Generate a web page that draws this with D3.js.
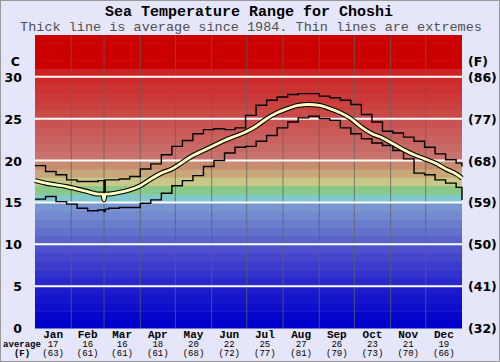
<!DOCTYPE html>
<html>
<head>
<meta charset="utf-8">
<script src="https://cdn.jsdelivr.net/npm/d3@7"></script>
<style>
  body { margin: 0; background: #e6e6fa; }
  svg { display: block; }
</style>
</head>
<body>
<main></main>
<script>
const width = 500;
const height = 362;
const plotLeft = 35, plotRight = 462, plotTop = 35, plotBottom = 328;

// day of year for each reading
const days = [0, 9, 18, 27, 36, 45, 54, 58, 59, 60, 63, 72, 81, 90, 99, 108, 117, 126, 135, 144, 153, 162, 171, 180,
  189, 198, 207, 216, 225, 234, 243, 252, 261, 270, 279, 288, 297, 306, 315, 324, 333, 342, 351, 360, 365];
const avgTemp = [17.6, 17.3, 17.1, 16.9, 16.6, 16.3, 16.0, 16.0, 15.3, 16.0, 16.0, 16.2, 16.5, 17.0, 17.8, 18.5, 19.0, 19.8, 20.6, 21.2, 21.8, 22.4, 22.9, 23.4,
  24.1, 25.0, 25.7, 26.2, 26.6, 26.7, 26.6, 26.2, 25.7, 25.0, 24.0, 23.2, 22.7, 22.0, 21.3, 20.7, 20.2, 19.7, 19.0, 18.4, 17.9];
const maxTemp = [19.4, 18.7, 18.3, 17.7, 17.5, 17.5, 17.6, 17.6, 16.1, 17.7, 17.7, 17.8, 18.1, 19.0, 19.6, 20.7, 21.7, 22.4, 23.2, 23.7, 23.8, 23.7, 23.9, 25.4,
  26.6, 27.2, 27.6, 27.9, 28.0, 28.0, 27.7, 27.5, 27.2, 26.7, 25.5, 24.6, 23.5, 23.3, 22.8, 22.3, 21.6, 20.8, 20.1, 19.7, 19.3];
const minTemp = [15.4, 15.7, 15.1, 14.8, 14.3, 14.0, 14.1, 14.1, 13.9, 14.2, 14.3, 14.4, 14.4, 14.9, 15.3, 16.1, 17.0, 17.6, 18.2, 19.3, 20.0, 20.9, 21.6, 21.7,
  22.3, 23.0, 23.9, 24.6, 25.1, 25.3, 25.0, 24.8, 23.9, 23.2, 22.6, 22.1, 21.8, 21.2, 20.2, 18.5, 18.3, 17.7, 17.3, 16.8, 15.3];

const monthStarts = [0, 31, 59, 90, 120, 151, 181, 212, 243, 273, 304, 334, 365];
const monthNames = ['Jan', 'Feb', 'Mar', 'Apr', 'May', 'Jun', 'Jul', 'Aug', 'Sep', 'Oct', 'Nov', 'Dec'];
const monthAvgC = ['17', '16', '16', '18', '20', '22', '25', '27', '26', '23', '21', '19'];
const monthAvgF = ['(63)', '(61)', '(61)', '(61)', '(68)', '(72)', '(77)', '(81)', '(79)', '(73)', '(70)', '(66)'];
const ticksC = [0, 5, 10, 15, 20, 25, 30];
const ticksF = ['(32)', '(41)', '(50)', '(59)', '(68)', '(77)', '(86)'];

const mono = '"Liberation Mono", "DejaVu Sans Mono", monospace';
const sans = '"DejaVu Sans", sans-serif';

const x = d3.scaleLinear().domain([0, 365]).range([plotLeft, plotRight]);
const y = d3.scaleLinear().domain([0, 35]).range([plotBottom, plotTop]);

const bandColor = (d) => {
  if (d < 5) return d3.interpolateRgb('rgb(0,0,204)', 'rgb(28,28,204)')(d / 4);
  if (d < 10) return d3.interpolateRgb('rgb(40,40,204)', 'rgb(78,80,204)')((d - 5) / 4);
  if (d < 15) return d3.interpolateRgb('rgb(90,100,200)', 'rgb(122,150,210)')((d - 10) / 4);
  if (d === 15) return 'rgb(128,200,204)';
  if (d === 16) return 'rgb(136,200,136)';
  if (d === 17) return 'rgb(200,200,136)';
  if (d === 18) return 'rgb(200,168,120)';
  if (d === 19) return 'rgb(200,140,112)';
  if (d < 31) return d3.interpolateRgb('rgb(200,114,110)', 'rgb(204,34,34)')((d - 20) / 10);
  return 'rgb(204,0,0)';
};

const svg = d3.select('main')
  .append('svg')
  .attr('width', width)
  .attr('height', height);

svg.append('rect')
  .attr('x', 0.5).attr('y', 0.5)
  .attr('width', width - 1).attr('height', height - 1)
  .attr('fill', '#e6e6fa')
  .attr('stroke', '#999');

// temperature bands
svg.append('g')
  .selectAll('rect')
  .data(d3.range(0, 35))
  .enter()
  .append('rect')
  .attr('x', plotLeft)
  .attr('width', plotRight - plotLeft)
  .attr('y', (d) => y(d + 1))
  .attr('height', (d) => y(d) - y(d + 1) + 0.5)
  .attr('fill', (d) => bandColor(d));

// month separators
svg.append('g')
  .selectAll('line')
  .data(monthStarts.slice(1, -1))
  .enter()
  .append('line')
  .attr('x1', (d) => x(d)).attr('x2', (d) => x(d))
  .attr('y1', plotTop).attr('y2', plotBottom)
  .attr('stroke', '#606060')
  .attr('stroke-opacity', 0.75)
  .attr('stroke-width', 1);

// horizontal grid
svg.append('g')
  .selectAll('line')
  .data(ticksC.slice(1))
  .enter()
  .append('line')
  .attr('x1', plotLeft).attr('x2', plotRight)
  .attr('y1', (d) => y(d)).attr('y2', (d) => y(d))
  .attr('stroke', '#fff')
  .attr('stroke-width', 2);

const series = (vals) => days.map((d, i) => [d, vals[i]]);

const stepLine = d3.line()
  .x((d) => x(d[0]))
  .y((d) => y(d[1]))
  .curve(d3.curveStepAfter);

const smoothLine = d3.line()
  .x((d) => x(d[0]))
  .y((d) => y(d[1]))
  .curve(d3.curveMonotoneX);

[maxTemp, minTemp].forEach((vals) => {
  svg.append('path')
    .attr('d', stepLine(series(vals)))
    .attr('fill', 'none')
    .attr('stroke', '#000')
    .attr('stroke-width', 1.4);
});

svg.append('path')
  .attr('d', smoothLine(series(avgTemp)))
  .attr('fill', 'none')
  .attr('stroke', '#000')
  .attr('stroke-width', 5);

svg.append('path')
  .attr('d', smoothLine(series(avgTemp)))
  .attr('fill', 'none')
  .attr('stroke', '#ffffc0')
  .attr('stroke-width', 2.8);

// titles
svg.append('text')
  .attr('x', 249).attr('y', 16)
  .attr('text-anchor', 'middle')
  .style('font', 'bold 15px ' + mono)
  .text('Sea Temperature Range for Choshi');

svg.append('text')
  .attr('x', 251).attr('y', 31)
  .attr('text-anchor', 'middle')
  .style('font', '13.5px ' + mono)
  .attr('fill', '#505050')
  .text('Thick line is average since 1984. Thin lines are extremes');

// axis labels
const axisC = svg.append('g')
  .style('font', 'bold 12.5px ' + sans)
  .attr('text-anchor', 'end');

axisC.selectAll('text.c')
  .data(ticksC)
  .enter()
  .append('text')
  .attr('x', 22)
  .attr('y', (d) => y(d) + 5)
  .text((d) => d);

axisC.append('text')
  .attr('x', 20).attr('y', 66)
  .text('C');

const axisF = svg.append('g')
  .style('font', 'bold 12.5px ' + sans)
  .attr('text-anchor', 'start');

axisF.selectAll('text.f')
  .data(ticksF)
  .enter()
  .append('text')
  .attr('x', 468)
  .attr('y', (d, i) => y(ticksC[i]) + 5)
  .text((d) => d);

axisF.append('text')
  .attr('x', 468).attr('y', 66)
  .text('(F)');

// month labels
const months = svg.append('g').attr('text-anchor', 'middle');
monthNames.forEach((m, i) => {
  const cx = x((monthStarts[i] + monthStarts[i + 1]) / 2);
  months.append('text')
    .attr('x', cx).attr('y', 337.5)
    .style('font', 'bold 11px ' + mono)
    .text(m);
  months.append('text')
    .attr('x', cx).attr('y', 346.5)
    .style('font', '9px ' + mono)
    .text(monthAvgC[i]);
  months.append('text')
    .attr('x', cx).attr('y', 356)
    .style('font', '9px ' + mono)
    .text(monthAvgF[i]);
});

svg.append('text')
  .attr('x', 22).attr('y', 346.5)
  .attr('text-anchor', 'middle')
  .style('font', 'bold 9px ' + mono)
  .text('average');

svg.append('text')
  .attr('x', 22).attr('y', 356)
  .attr('text-anchor', 'middle')
  .style('font', 'bold 9px ' + mono)
  .text('(F)');
</script>
</body>
</html>
